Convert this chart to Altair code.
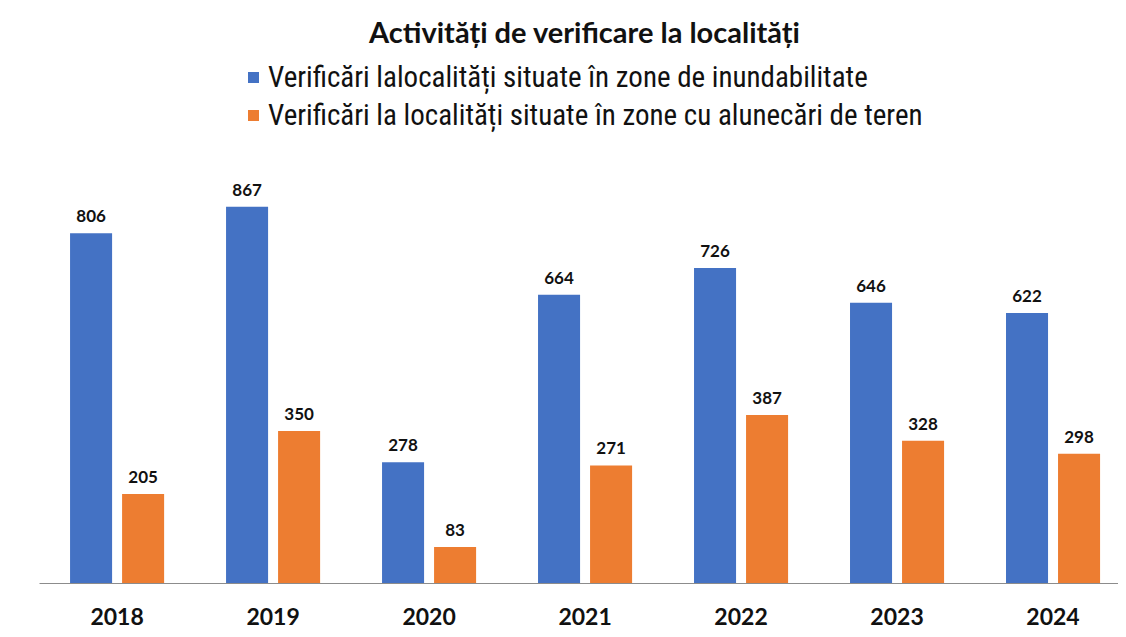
import altair as alt
import pandas as pd

years = ["2018", "2019", "2020", "2021", "2022", "2023", "2024"]
series_names = [
    "Verificări lalocalități situate în zone de inundabilitate",
    "Verificări la localități situate în zone cu alunecări de teren",
]
flood_values = [806, 867, 278, 664, 726, 646, 622]
landslide_values = [205, 350, 83, 271, 387, 328, 298]
colors = ["#4472C4", "#ED7D31"]
title_text = "Activități de verificare la localități"

rows = []
for y, a, b in zip(years, flood_values, landslide_values):
    rows.append({"year": y, "series": series_names[0], "value": a})
    rows.append({"year": y, "series": series_names[1], "value": b})
df = pd.DataFrame(rows)

x_enc = alt.X(
    "year:N",
    sort=years,
    scale=alt.Scale(paddingInner=0.397, paddingOuter=0.157, align=0.634),
    axis=alt.Axis(
        title=None,
        labelAngle=0,
        ticks=False,
        tickSize=0,
        labelFont="Lato",
        labelFontWeight="bold",
        labelFontSize=23,
        labelColor="#111111",
        labelBaseline="alphabetic",
        labelPadding=41,
        domainColor="#8c8c8c",
        domainWidth=1,
        grid=False,
    ),
)
xoff_enc = alt.XOffset(
    "series:N",
    sort=series_names,
    scale=alt.Scale(paddingInner=0.192, paddingOuter=0),
)
y_enc = alt.Y("value:Q", scale=alt.Scale(domain=[0, 1000]), axis=None)

bars = alt.Chart(df).mark_bar().encode(
    x=x_enc,
    xOffset=xoff_enc,
    y=y_enc,
    color=alt.Color(
        "series:N",
        sort=series_names,
        scale=alt.Scale(domain=series_names, range=colors),
        legend=alt.Legend(
            title=None,
            orient="none",
            legendX=200,
            legendY=-86,
            direction="vertical",
            symbolType="square",
            symbolSize=121,
            symbolStrokeWidth=0,
            labelFont="Roboto Condensed, Liberation Sans Narrow, Liberation Sans",
            labelFontSize=29,
            labelColor="#111111",
            labelOffset=0,
            labelLimit=900,
            rowPadding=8,
            padding=0,
        ),
    ),
)

labels = alt.Chart(df).mark_text(
    font="Lato",
    fontWeight="bold",
    fontSize=17,
    color="#111111",
    baseline="alphabetic",
    dy=-11,
).encode(
    x=x_enc,
    xOffset=xoff_enc,
    y=y_enc,
    text=alt.Text("value:Q"),
)

chart = (
    alt.layer(bars, labels)
    .properties(
        width=1079,
        height=434,
        padding={"left": 31, "top": 141, "right": 0, "bottom": 46},
        autosize=alt.AutoSizeParams(type="none"),
        background="white",
        title=alt.TitleParams(
            text=title_text,
            font="Lato",
            fontWeight="bold",
            fontSize=29,
            color="#111111",
            anchor="middle",
            frame="group",
            orient="top",
            dx=6,
            dy=-10,
        ),
    )
    .configure_view(stroke="transparent", strokeWidth=0)
)

chart.save("out.html", embed_options={"renderer": "svg", "actions": False})
